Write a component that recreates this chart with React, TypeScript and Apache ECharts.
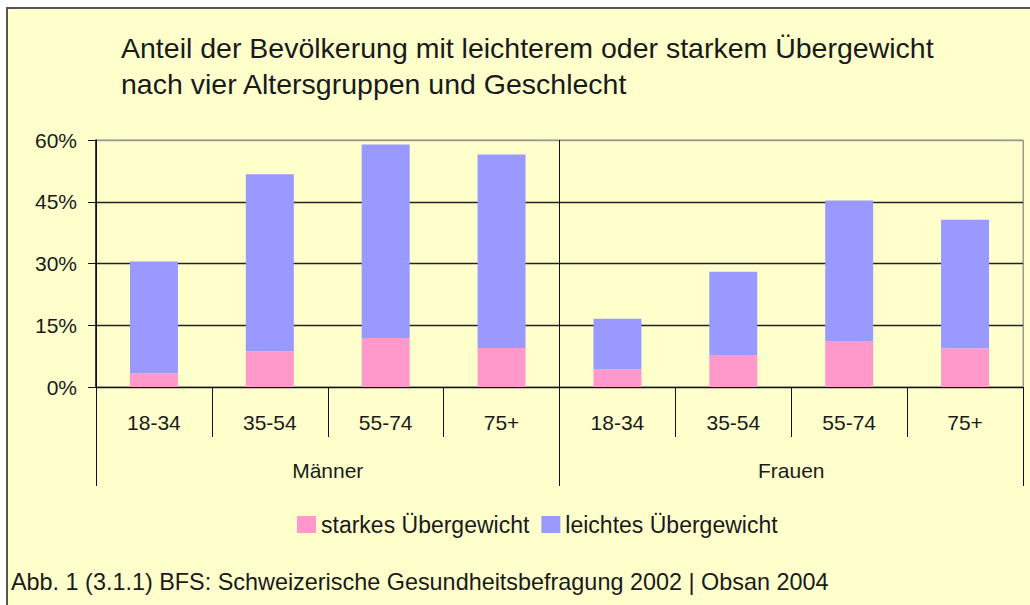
import React, { useEffect, useRef } from "react";
import * as echarts from "echarts";

const groups = ["Männer", "Frauen"];
const ageGroups = ["18-34", "35-54", "55-74", "75+"];
const categoryKeys = ["M|18-34", "M|35-54", "M|55-74", "M|75+", "F|18-34", "F|35-54", "F|55-74", "F|75+"];
const starkes = [3.3, 8.7, 11.9, 9.5, 4.3, 7.8, 11.2, 9.4];
const leichtes = [27.2, 43.0, 47.0, 47.0, 12.3, 20.2, 34.1, 31.2];
const yTicks = [0, 15, 30, 45, 60];
const titleText = "Anteil der Bevölkerung mit leichterem oder starkem Übergewicht\nnach vier Altersgruppen und Geschlecht";
const footerText = "Abb. 1 (3.1.1) BFS: Schweizerische Gesundheitsbefragung 2002 | Obsan 2004";
const seriesNames = ["starkes Übergewicht", "leichtes Übergewicht"];

const FONT = "'Liberation Sans', Arial, sans-serif";

export default function App() {
  const ref = useRef<HTMLDivElement>(null);
  useEffect(() => {
    document.body.style.margin = "0";
    const chart = echarts.init(ref.current!, null, { renderer: "svg" });
    chart.setOption({
      animation: false,
      backgroundColor: "transparent",
      textStyle: { fontFamily: FONT },
      title: {
        text: titleText,
        left: 116,
        top: 25,
        textStyle: { fontFamily: FONT, fontSize: 28.5, fontWeight: "normal", color: "#1a1a1a", lineHeight: 36 },
      },
      legend: {
        data: seriesNames,
        left: 297,
        top: 513,
        padding: 0,
        itemWidth: 19,
        itemHeight: 17,
        itemGap: 12,
        icon: "rect",
        textStyle: { fontFamily: FONT, fontSize: 23, color: "#1a1a1a" },
      },
      graphic: [
        {
          type: "text",
          left: 11,
          top: 570,
          style: { text: footerText, font: `23.4px ${FONT}`, fill: "#1a1a1a" },
        },
      ],
      grid: {
        left: 96,
        right: 7,
        top: 140,
        bottom: 218,
        show: true,
        borderColor: "#999",
        borderWidth: 1,
        backgroundColor: "transparent",
      },
      xAxis: [
        {
          type: "category",
          data: categoryKeys,
          position: "bottom",
          axisLine: { show: true, lineStyle: { color: "#111", width: 1 } },
          axisTick: { show: true, length: 50, interval: 0, lineStyle: { color: "#111" } },
          axisLabel: {
            interval: 0,
            margin: 25,
            fontSize: 21,
            color: "#1a1a1a",
            fontFamily: FONT,
            formatter: (v: string) => v.split("|")[1],
          },
          splitLine: { show: false },
        },
        {
          type: "category",
          data: groups,
          position: "bottom",
          axisLine: { show: false },
          axisTick: { show: true, length: 99, interval: 0, lineStyle: { color: "#111" } },
          axisLabel: { interval: 0, margin: 73, fontSize: 21, color: "#1a1a1a", fontFamily: FONT },
          splitLine: { show: true, interval: 0, lineStyle: { color: ["#111", "#111", "#999"], width: 1 } },
        },
      ],
      yAxis: {
        type: "value",
        min: yTicks[0],
        max: yTicks[yTicks.length - 1],
        interval: 15,
        axisLine: { show: true, lineStyle: { color: "#111", width: 1.5 } },
        axisTick: { show: true, length: 8, lineStyle: { color: "#111" } },
        axisLabel: { formatter: "{value}%", margin: 19, fontSize: 21, color: "#1a1a1a", fontFamily: FONT },
        splitLine: { show: true, lineStyle: { color: ["#222", "#222", "#222", "#222", "#999"], width: 1.4 } },
      },
      series: [
        {
          name: seriesNames[0],
          type: "bar",
          stack: "total",
          xAxisIndex: 0,
          barWidth: 48,
          data: starkes,
          itemStyle: { color: "#FF99CC" },
        },
        {
          name: seriesNames[1],
          type: "bar",
          stack: "total",
          xAxisIndex: 0,
          barWidth: 48,
          data: leichtes,
          itemStyle: { color: "#9999FF" },
        },
      ],
    });
    return () => chart.dispose();
  }, []);

  return (
    <div style={{ position: "relative", width: 1030, height: 605, background: "#fff", overflow: "hidden" }}>
      <div
        style={{
          position: "absolute",
          left: 6,
          top: 7,
          width: 1030,
          height: 605,
          background: "#FFFFCC",
          borderLeft: "2px solid #555",
          borderTop: "2px solid #555",
        }}
      />
      <div ref={ref} style={{ position: "absolute", left: 0, top: 0, width: 1030, height: 605 }} />
    </div>
  );
}
